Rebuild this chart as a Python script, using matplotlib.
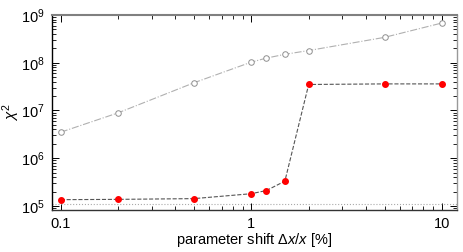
import matplotlib
matplotlib.use("Agg")
import matplotlib.pyplot as plt
from matplotlib.ticker import LogLocator, FixedLocator, FixedFormatter, NullFormatter

plt.rcParams['font.family'] = ['Liberation Sans', 'DejaVu Sans']
plt.rcParams['mathtext.fontset'] = 'custom'
plt.rcParams['mathtext.rm'] = 'Liberation Sans'
plt.rcParams['mathtext.it'] = 'Liberation Sans:italic'

shift = [0.1, 0.2, 0.5, 1.0, 1.2, 1.5, 2.0, 5.0, 10.0]
chi2_red = [1.35e5, 1.37e5, 1.42e5, 1.8e5, 2.1e5, 3.3e5, 3.5e7, 3.6e7, 3.6e7]
chi2_gray = [3.5e6, 8.9e6, 3.8e7, 1.03e8, 1.25e8, 1.5e8, 1.8e8, 3.4e8, 6.8e8]
baseline = 1.1e5
xticks = [0.1, 1, 10]
xticklabels = ['0.1', '1', '10']

fig = plt.figure(figsize=(4.63, 2.52), dpi=100)
ax = fig.add_axes([52/463, 1-210/252, (457-52)/463, (210-15)/252])
ax.set_xscale('log')
ax.set_yscale('log')

ax.plot(shift, chi2_gray, linestyle='-.', color='#b0b0b0', lw=0.8,
        marker='o', ms=4, mfc='white', mec='#909090', mew=0.7)
ax.plot(shift, chi2_red, linestyle='--', color='#555555', lw=0.8,
        marker='o', ms=4, mfc='#ff0000', mec='#ff0000')
ax.axhline(baseline, color='#aaaaaa', lw=0.8, linestyle=':')

ax.set_xlim(0.09, 12)
ax.set_ylim(8.2e4, 1e9)

ax.xaxis.set_major_locator(FixedLocator(xticks))
ax.xaxis.set_major_formatter(FixedFormatter(xticklabels))
ax.xaxis.set_minor_locator(LogLocator(base=10, subs=range(2, 10), numticks=20))
ax.xaxis.set_minor_formatter(NullFormatter())
ax.yaxis.set_major_locator(LogLocator(base=10, numticks=20))
ax.yaxis.set_minor_locator(LogLocator(base=10, subs=range(2, 10), numticks=20))
ax.yaxis.set_minor_formatter(NullFormatter())

ax.tick_params(which='both', direction='in', top=True, right=True, labelsize=10.5)
ax.tick_params(axis='x', pad=5)
ax.tick_params(axis='y', pad=5)
ax.tick_params(which='major', length=5, width=0.7)
ax.tick_params(which='minor', length=3, width=0.6)

for s in ax.spines.values():
    s.set_linewidth(1.0)
ax.spines['top'].set_color('#808080')
ax.spines['top'].set_linewidth(1.5)
ax.spines['left'].set_color('black')
ax.spines['bottom'].set_color('#333333')
ax.spines['right'].set_color('#999999')

ax.set_xlabel(r'parameter shift $\Delta x/x$ [%]', fontsize=10.5, va='center')
ax.xaxis.set_label_coords(0.5, -0.155)
ax.set_ylabel(r'$\chi^2$', fontsize=11, va='center')
ax.yaxis.set_label_coords(-0.1, 0.5)

fig.savefig('out.png', dpi=100)
